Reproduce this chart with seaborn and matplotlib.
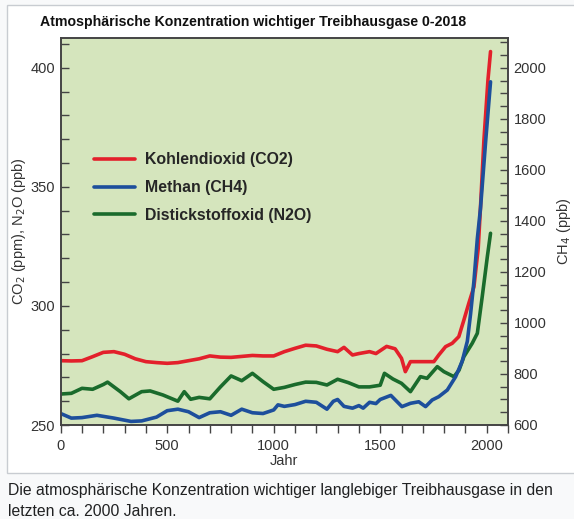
import matplotlib
matplotlib.use("Agg")
import matplotlib.pyplot as plt
from matplotlib.lines import Line2D
from matplotlib.patches import Rectangle
from matplotlib.ticker import MultipleLocator
import seaborn as sns

# CO2 (ppm)
co2_years = [0, 50, 100, 150, 200, 250, 300, 350, 400, 450, 500, 550, 600, 650,
             700, 750, 800, 850, 900, 950, 1000, 1050, 1100, 1150, 1200, 1250,
             1300, 1330, 1370, 1400, 1450, 1480, 1530, 1570, 1600, 1618, 1642,
             1700, 1752, 1775, 1807, 1838, 1869, 1893, 1916, 1940, 1960, 1971,
             1987, 2006, 2018]
co2_vals = [277.0, 276.9, 277.0, 278.7, 280.5, 280.8, 279.7, 277.8, 276.6, 276.2,
            275.9, 276.2, 277.0, 277.8, 279.0, 278.5, 278.4, 278.8, 279.2, 279.0,
            279.0, 280.8, 282.2, 283.5, 283.2, 281.8, 280.8, 282.6, 279.4, 280.0,
            280.8, 280.0, 283.0, 282.0, 278.0, 272.4, 276.6, 276.6, 276.6, 279.4,
            282.9, 284.3, 287.1, 294.1, 301.1, 308.0, 324.0, 341.7, 369.7, 395.0,
            406.8]

# N2O (ppb)
n2o_years = [0, 50, 100, 150, 200, 220, 280, 320, 380, 420, 480, 550, 580, 610,
             650, 700, 750, 800, 850, 900, 950, 1000, 1050, 1100, 1150, 1200,
             1250, 1300, 1350, 1400, 1450, 1500, 1520, 1560, 1600, 1642, 1689,
             1720, 1768, 1799, 1846, 1870, 1893, 1932, 1956, 1979, 2003, 2018]
n2o_vals = [263.0, 263.3, 265.4, 265.0, 267.0, 268.0, 264.0, 261.0, 264.0, 264.3,
            262.6, 260.0, 264.0, 260.8, 261.6, 261.0, 266.0, 270.6, 268.6, 271.7,
            268.2, 265.0, 265.8, 267.0, 268.0, 267.9, 266.8, 269.2, 267.8, 266.0,
            266.0, 266.7, 271.7, 269.3, 267.5, 264.0, 270.3, 269.6, 274.5, 272.4,
            270.3, 273.0, 278.7, 284.3, 288.5, 303.9, 320.7, 330.5]

# CH4 (ppb), right axis
ch4_years = [0, 50, 100, 170, 250, 330, 380, 450, 500, 550, 600, 650, 700, 750,
             800, 850, 900, 950, 1000, 1020, 1050, 1100, 1150, 1200, 1250, 1280,
             1300, 1330, 1370, 1400, 1420, 1450, 1480, 1500, 1550, 1602, 1642,
             1681, 1713, 1744, 1775, 1815, 1854, 1885, 1909, 1924, 1940, 1956,
             1971, 1995, 2018]
ch4_vals = [645, 627, 629, 638, 627, 614, 616, 631, 656, 662, 652, 629, 648, 652,
            638, 662, 648, 645, 659, 679, 673, 680, 693, 689, 662, 693, 700, 673,
            666, 676, 666, 689, 684, 700, 716, 672, 685, 691, 672, 698, 711, 737,
            789, 850, 928, 1033, 1163, 1330, 1450, 1711, 1945]

labels = ["Kohlendioxid (CO2)", "Methan (CH4)", "Distickstoffoxid (N2O)"]
colors = ["#e3202b", "#1d4f9c", "#1a6b2c"]

sns.set_style("ticks")
plt.rcParams["font.family"] = ["Liberation Sans", "DejaVu Sans"]

fig = plt.figure(figsize=(5.74, 5.19), dpi=100)
fig.patch.set_facecolor("#f8f9fa")
# white image area with thin frame, caption sits below it
fig.patches.append(Rectangle((7 / 574, 1 - 473 / 519), 1.0, 468 / 519,
                             transform=fig.transFigure, facecolor="white",
                             edgecolor="#c8ccd1", lw=1, zorder=-10))

ax = fig.add_axes([60.7 / 574, 1 - 425 / 519, (508 - 60.7) / 574, (425 - 38) / 519])
ax.set_facecolor("#d5e5bd")
ax2 = ax.twinx()

line_kw = dict(lw=2.6, solid_joinstyle="round", solid_capstyle="round")
sns.lineplot(x=co2_years, y=co2_vals, ax=ax, color=colors[0], **line_kw)
sns.lineplot(x=n2o_years, y=n2o_vals, ax=ax, color=colors[2], **line_kw)
sns.lineplot(x=ch4_years, y=ch4_vals, ax=ax2, color=colors[1], **line_kw)

ax.set_xlim(0, 2100)
ax.set_ylim(250, 412.5)
ax2.set_ylim(600, 600 + 162.5 * 1400 / 150)

tick_col = "#333333"
ax.xaxis.set_major_locator(MultipleLocator(500))
ax.xaxis.set_minor_locator(MultipleLocator(100))
ax.yaxis.set_major_locator(MultipleLocator(50))
ax.yaxis.set_minor_locator(MultipleLocator(10))
ax2.yaxis.set_major_locator(MultipleLocator(200))
ax2.yaxis.set_minor_locator(MultipleLocator(50))

ax.tick_params(axis="x", which="both", direction="out", length=6, width=1,
               color="#444444", labelsize=10.5, labelcolor=tick_col, pad=4)
ax.tick_params(axis="y", which="both", direction="in", length=6, width=1,
               color="#444444", labelsize=10.5, labelcolor=tick_col, pad=4)
ax2.tick_params(axis="y", which="both", direction="in", length=6, width=1,
                color="#444444", labelsize=10.5, labelcolor=tick_col, pad=4)

for a in (ax, ax2):
    for s in a.spines.values():
        s.set_color("#444444")
        s.set_linewidth(1.2)

ax.set_xlabel("Jahr", fontsize=10.5, color=tick_col, labelpad=1)
ax.set_ylabel("CO$_2$ (ppm), N$_2$O (ppb)", fontsize=10.5, color=tick_col, labelpad=2)
ax2.set_ylabel("CH$_4$ (ppb)", fontsize=10.5, color=tick_col, labelpad=6)

handles = [Line2D([], [], color=c, lw=2.6) for c in colors]
ax.legend(handles, labels, loc="upper left", bbox_to_anchor=(0.042, 0.741),
          frameon=False, handlelength=2.6, handletextpad=0.63, labelspacing=0.8,
          prop={"weight": "bold", "size": 11.4})

fig.text(40 / 574, 1 - 22 / 519, "Atmosphärische Konzentration wichtiger Treibhausgase 0-2018",
         fontsize=10.2, fontweight="bold", ha="left", va="center", color="#111111")

fig.text(8 / 574, 1 - 491 / 519,
         "Die atmosphärische Konzentration wichtiger langlebiger Treibhausgase in den",
         fontsize=11.3, ha="left", va="center", color="#202122")
fig.text(8 / 574, 1 - 511 / 519, "letzten ca. 2000 Jahren.",
         fontsize=11.3, ha="left", va="center", color="#202122")

fig.savefig("out.png", dpi=100, facecolor=fig.get_facecolor())
